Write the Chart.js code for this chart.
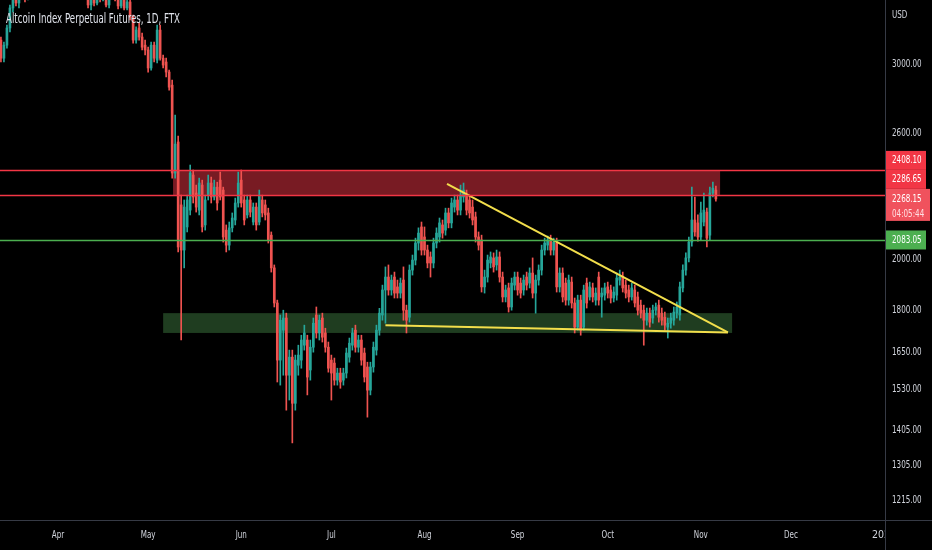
<!DOCTYPE html>
<html><head><meta charset="utf-8">
<script src="https://cdn.jsdelivr.net/npm/chart.js@4.4.0/dist/chart.umd.min.js"></script>
<style>html,body{margin:0;padding:0;background:#000;overflow:hidden}#wrap{width:932px;height:550px}canvas{display:block}</style>
</head><body><div id="wrap"><canvas id="c" width="932" height="550"></canvas></div>
<script>
const title = 'Altcoin Index Perpetual Futures, 1D, FTX';
const currency = 'USD';
const firstDay = -19; // days counted from 1 Apr
const opens = [
3152,3036,3119,3232,3369,3497,3404,3511,3570,3461,
3607,3683,3645,3760,3721,3839,3799,3895,3863,3784,
3839,3760,3721,3799,3706,3645,3706,3607,3555,3511,
3390,3461,3404,3482,3439,3497,3390,3482,3533,3446,
3383,3425,3369,3411,3306,3152,3232,3172,3119,3088,
2975,3119,3024,3218,3036,3012,2950,2871,2393,2552,
2240,2040,2140,2216,2383,2296,2216,2334,2149,2286,
2344,2277,2324,2358,2310,2126,2061,2136,2171,2249,
2358,2263,2194,2263,2162,2230,2162,2263,2240,2203,
2104,1966,1828,1624,1728,1772,1574,1634,1485,1607,
1624,1675,1693,1591,1668,1783,1718,1772,1718,1668,
1624,1614,1558,1581,1558,1581,1634,1675,1728,1668,
1693,1648,1601,1526,1601,1658,1728,1783,1878,1929,
1878,1929,1890,1866,1917,1801,1775,1957,1998,2070,
2140,2096,2040,2011,1986,2070,2096,2149,2126,2203,
2158,2230,2263,2216,2277,2286,2263,2230,2185,2096,
2083,1890,1929,1986,2007,1978,2011,1929,1851,1886,
1813,1897,1929,1905,1878,1929,1905,1945,1866,1917,
1957,2040,2061,2083,2040,2070,1890,1945,1905,1839,
1909,1828,1739,1839,1739,1905,1851,1886,1839,1929,
1851,1858,1890,1878,1847,1858,1917,1929,1897,1878,
1851,1878,1851,1820,1801,1764,1790,1772,1801,1820,
1790,1775,1739,1753,1764,1790,1783,1886,1957,2007,
2074,2171,2158,2096,2162,2207,2104,2296,2310];
const highs = [
3172,3139,3252,3390,3533,3533,3555,3614,3600,3645,
3721,3721,3799,3815,3879,3895,3943,3951,3895,3879,
3863,3799,3839,3831,3737,3753,3737,3645,3585,3540,
3497,3482,3511,3511,3533,3525,3511,3570,3555,3468,
3453,3446,3439,3425,3320,3239,3265,3198,3152,3106,
3139,3139,3252,3252,3056,3036,2962,2901,2699,2584,
2286,2263,2286,2433,2408,2334,2368,2358,2286,2383,
2373,2358,2348,2398,2324,2149,2162,2203,2272,2398,
2408,2286,2286,2286,2249,2249,2310,2286,2263,2225,
2118,1978,1839,1783,1801,1790,1658,1658,1641,1675,
1710,1746,1710,1693,1772,1813,1783,1790,1735,1686,
1641,1631,1597,1597,1597,1665,1700,1735,1746,1710,
1710,1665,1617,1617,1686,1746,1808,1897,1970,1978,
1937,1949,1917,1925,1970,1820,1978,2019,2091,2136,
2162,2140,2061,2032,2091,2136,2180,2171,2225,2225,
2272,2286,2286,2334,2344,2310,2286,2263,2207,2118,
2104,1957,2019,2032,2028,2040,2032,1949,1897,1905,
1925,1949,1949,1925,1937,1949,1966,2007,1937,1978,
2061,2091,2100,2104,2091,2091,1966,1966,1925,1937,
1929,1847,1858,1858,1897,1925,1909,1905,1886,1949,
1886,1905,1909,1897,1890,1945,1957,1949,1917,1897,
1905,1897,1870,1839,1820,1809,1809,1820,1828,1839,
1809,1794,1772,1790,1813,1832,1909,1978,2028,2096,
2324,2277,2194,2253,2296,2225,2324,2348,2329];
const lows = [
3012,3012,3100,3205,3341,3383,3369,3446,3411,3425,
3570,3607,3614,3683,3690,3760,3768,3815,3737,3753,
3721,3675,3683,3668,3607,3614,3570,3511,3461,3369,
3355,3383,3390,3411,3418,3376,3369,3453,3418,3362,
3369,3355,3355,3286,3132,3132,3152,3088,3056,2950,
2962,3012,3006,3024,2975,2920,2842,2368,2368,2032,
1693,1966,2118,2194,2249,2207,2194,2118,2126,2263,
2249,2263,2216,2263,2074,2032,2040,2118,2149,2230,
2230,2149,2180,2185,2149,2126,2149,2185,2171,2070,
1949,1813,1552,1542,1574,1464,1495,1368,1464,1574,
1597,1658,1511,1558,1651,1700,1693,1686,1651,1584,
1495,1542,1542,1532,1542,1565,1617,1658,1651,1651,
1607,1552,1443,1511,1584,1641,1710,1764,1753,1858,
1858,1847,1847,1847,1764,1718,1757,1937,1978,2040,
2019,2019,1966,1929,1966,2049,2074,2091,2104,2136,
2136,2207,2194,2194,2253,2194,2180,2149,2074,2040,
1870,1866,1909,1966,1949,1957,1909,1832,1832,1794,
1801,1878,1858,1847,1858,1878,1886,1847,1790,1897,
1937,2019,2040,2019,2019,1870,1870,1832,1820,1820,
1809,1718,1728,1710,1728,1809,1839,1832,1820,1820,
1775,1839,1847,1828,1832,1839,1897,1870,1847,1832,
1839,1813,1783,1772,1675,1746,1739,1753,1783,1757,
1746,1728,1700,1735,1746,1772,1764,1870,1937,1990,
2057,2100,2078,2083,2145,2053,2083,2277,2258];
const closes = [
3036,3119,3232,3369,3497,3404,3511,3570,3461,3607,
3683,3645,3760,3721,3839,3799,3895,3863,3784,3839,
3760,3721,3799,3706,3645,3706,3607,3555,3511,3390,
3461,3404,3482,3439,3497,3390,3482,3533,3446,3383,
3425,3369,3411,3306,3152,3218,3172,3106,3088,2975,
3119,3036,3218,3036,2993,2950,2859,2393,2541,2053,
2040,2230,2263,2393,2277,2230,2344,2140,2263,2344,
2277,2324,2249,2277,2096,2061,2136,2180,2249,2344,
2249,2171,2263,2207,2230,2149,2286,2203,2194,2083,
1966,1828,1624,1764,1772,1574,1634,1485,1624,1641,
1693,1718,1568,1668,1753,1718,1764,1703,1668,1597,
1581,1558,1581,1552,1581,1648,1682,1718,1668,1693,
1624,1568,1526,1601,1668,1728,1790,1878,1929,1878,
1917,1866,1866,1905,1801,1764,1957,1998,2070,2113,
2040,2040,1986,1986,2070,2113,2158,2113,2203,2158,
2249,2263,2216,2286,2310,2216,2203,2171,2096,2061,
1890,1929,1998,2011,1970,2011,1929,1851,1878,1813,
1905,1929,1878,1866,1917,1897,1945,1866,1917,1957,
2040,2070,2083,2040,2074,1890,1945,1851,1839,1917,
1828,1739,1839,1728,1878,1828,1890,1851,1866,1839,
1866,1886,1866,1847,1870,1925,1929,1886,1866,1851,
1886,1828,1801,1790,1764,1790,1757,1801,1813,1775,
1764,1746,1753,1772,1794,1813,1890,1957,2007,2074,
2171,2118,2096,2203,2216,2091,2296,2319,2268.15];

const monthTickDays = [0, 30, 61, 91, 122, 153, 183, 214, 244, 275];
const monthTickLabels = ['Apr','May','Jun','Jul','Aug','Sep','Oct','Nov','Dec','2022'];
const priceTicks = [1215, 1305, 1405, 1530, 1650, 1800, 2000, 2600, 3000];
const levelPrices = [2408.10, 2286.65, 2083.05];
const currentPrice = 2268.15;
const countdown = '04:05:44';
const redZone = { startDay: 38.3, endDay: 220.4, low: 2286.65, high: 2408.10 };
const greenZone = { startDay: 35, endDay: 224.4, low: 1718, high: 1790 };
const trendDays = [129.5, 223.0];
const trendPrices = [2340, 1720];
const baseDays = [109.0, 223.0];
const basePrices = [1746, 1720];

const GREEN = '#26a69a', RED = '#ef5350';
const FONT = '"Liberation Sans Narrow","DejaVu Sans Condensed","Noto Sans",sans-serif';
const TEXT = '#d1d4dc';
const SQUEEZE = 0.76;
const days = closes.map((_, i) => firstDay + i);
const candleColors = closes.map((c, i) => c >= opens[i] ? GREEN : RED);

function squeezedText(ctx, text, x, y, k) {
  ctx.save(); ctx.translate(x, y); ctx.scale(k, 1); ctx.fillText(text, 0, 0); ctx.restore();
}

const overlay = {
  id: 'overlay',
  beforeDraw(chart) {
    // axis labels drawn horizontally condensed, like the reference's narrow font
    Object.values(chart.scales).forEach(s => {
      if (s._squeezed) return;
      const orig = s.drawLabels;
      s.drawLabels = function (area) {
        const ctx = this.ctx, f = ctx.fillText;
        ctx.fillText = function (t, x, y) {
          const k = /^\d{4}$/.test(String(t)) ? 1 : SQUEEZE; // year label keeps full width
          this.save(); this.translate(x, y); this.scale(k, 1); f.call(this, t, 0, 0); this.restore();
        };
        try { orig.call(this, area); } finally { ctx.fillText = f; }
      };
      s._squeezed = true;
    });
  },
  beforeDatasetsDraw(chart) {
    const {ctx, chartArea: a, scales: {x, y}} = chart;
    ctx.save();
    ctx.beginPath(); ctx.rect(a.left, a.top, a.right - a.left, a.bottom - a.top); ctx.clip();
    const zone = (z, col) => {
      const x0 = x.getPixelForValue(z.startDay), x1 = x.getPixelForValue(z.endDay);
      const y0 = y.getPixelForValue(z.high), y1 = y.getPixelForValue(z.low);
      ctx.fillStyle = col; ctx.fillRect(x0, y0, x1 - x0, y1 - y0);
    };
    zone(redZone, '#781b23');
    zone(greenZone, '#1f3d20');
    ctx.restore();
  },
  afterDatasetsDraw(chart) {
    const {ctx, chartArea: a, scales: {y}} = chart;
    ctx.save();
    const cols = ['#f23645', '#f23645', '#4caf50'];
    levelPrices.forEach((p, i) => {
      const py = Math.round(y.getPixelForValue(p)) + 0.5;
      ctx.strokeStyle = cols[i]; ctx.lineWidth = 1.6;
      ctx.beginPath(); ctx.moveTo(a.left, py); ctx.lineTo(a.right, py); ctx.stroke();
    });
    ctx.restore();
  },
  afterDraw(chart) {
    const {ctx, chartArea: a, scales: {y}} = chart;
    const W = chart.width, H = chart.height;
    ctx.save();
    ctx.fillStyle = '#000';
    ctx.fillRect(a.right + 1, a.bottom + 1, W - a.right, H - a.bottom);
    ctx.strokeStyle = '#363a45'; ctx.lineWidth = 1;
    ctx.beginPath(); ctx.moveTo(a.right + 0.5, 0); ctx.lineTo(a.right + 0.5, H); ctx.stroke();
    ctx.beginPath(); ctx.moveTo(0, a.bottom + 0.5); ctx.lineTo(W, a.bottom + 0.5); ctx.stroke();

    ctx.font = '10.5px ' + FONT;
    ctx.textBaseline = 'middle'; ctx.textAlign = 'left';
    ctx.fillStyle = TEXT;
    squeezedText(ctx, currency, a.right + 7, 15, SQUEEZE);

    const bx = a.right + 1;
    const lh = 19;
    const tx = a.right + 7;
    const yc = y.getPixelForValue(currentPrice);
    const curTop = yc - 10;
    ctx.fillStyle = '#f0525d';
    ctx.fillRect(bx, curTop, 44, 32);
    ctx.fillStyle = '#ffffff';
    squeezedText(ctx, currentPrice.toFixed(2), tx, yc, SQUEEZE);
    ctx.fillStyle = '#ffdfe2';
    squeezedText(ctx, countdown, tx, yc + 15, SQUEEZE);
    let limit = curTop;
    const levelCols = ['#f23645', '#f23645', '#4caf50'];
    [1, 0].forEach(i => {
      let cy = y.getPixelForValue(levelPrices[i]);
      if (cy + lh / 2 > limit) cy = limit - lh / 2;
      ctx.fillStyle = levelCols[i];
      ctx.fillRect(bx, cy - lh / 2, 40, lh);
      ctx.fillStyle = '#ffffff';
      squeezedText(ctx, levelPrices[i].toFixed(2), tx, cy, SQUEEZE);
      limit = cy - lh / 2;
    });
    const gy = y.getPixelForValue(levelPrices[2]);
    ctx.fillStyle = levelCols[2];
    ctx.fillRect(bx, gy - lh / 2, 40, lh);
    ctx.fillStyle = '#ffffff';
    squeezedText(ctx, levelPrices[2].toFixed(2), tx, gy, SQUEEZE);

    ctx.font = '14px ' + FONT;
    ctx.textBaseline = 'alphabetic';
    const tw = ctx.measureText(title).width;
    ctx.fillStyle = '#e0e3eb';
    squeezedText(ctx, title, 6, 23, 174 / tw);
    ctx.restore();
  }
};

new Chart(document.getElementById('c').getContext('2d'), {
  type: 'bar',
  data: {
    datasets: [
      { type: 'line', data: trendDays.map((d, i) => ({x: d, y: trendPrices[i]})),
        borderColor: '#f2de4b', borderWidth: 2, pointRadius: 0, order: 0 },
      { type: 'line', data: baseDays.map((d, i) => ({x: d, y: basePrices[i]})),
        borderColor: '#f2de4b', borderWidth: 2, pointRadius: 0, order: 0 },
      { data: days.map((d, i) => ({x: d, y: [opens[i], closes[i]]})),
        backgroundColor: candleColors, barThickness: 2, minBarLength: 1, grouped: false, order: 1 },
      { data: days.map((d, i) => ({x: d, y: [lows[i], highs[i]]})),
        backgroundColor: candleColors, barThickness: 1, grouped: false, order: 2 }
    ]
  },
  options: {
    responsive: false, animation: false, devicePixelRatio: 1,
    layout: { padding: 0 },
    plugins: { legend: { display: false }, tooltip: { enabled: false } },
    scales: {
      x: {
        type: 'linear', min: -19.31, max: 275.3, offset: false,
        grid: { display: false, drawTicks: false }, border: { display: false },
        afterBuildTicks: s => { s.ticks = monthTickDays.map(v => ({value: v})); },
        afterFit: s => { s.height = 30; s.paddingLeft = 0; s.paddingRight = 0; },
        ticks: { autoSkip: false, maxRotation: 0, minRotation: 0, color: TEXT, padding: 9,
          font: { family: FONT, size: 10.5 },
          callback: v => monthTickLabels[monthTickDays.indexOf(v)] }
      },
      y: {
        type: 'logarithmic', position: 'right', min: 1166, max: 3425,
        grid: { display: false, drawTicks: false }, border: { display: false },
        afterBuildTicks: s => { s.ticks = priceTicks.map(v => ({value: v})); },
        afterFit: s => { s.width = 47; s.paddingTop = 0; s.paddingBottom = 0; },
        ticks: { color: TEXT, padding: 7, font: { family: FONT, size: 10.5 },
          callback: v => Number(v).toFixed(2) }
      }
    }
  },
  plugins: [overlay]
});
</script></body></html>
